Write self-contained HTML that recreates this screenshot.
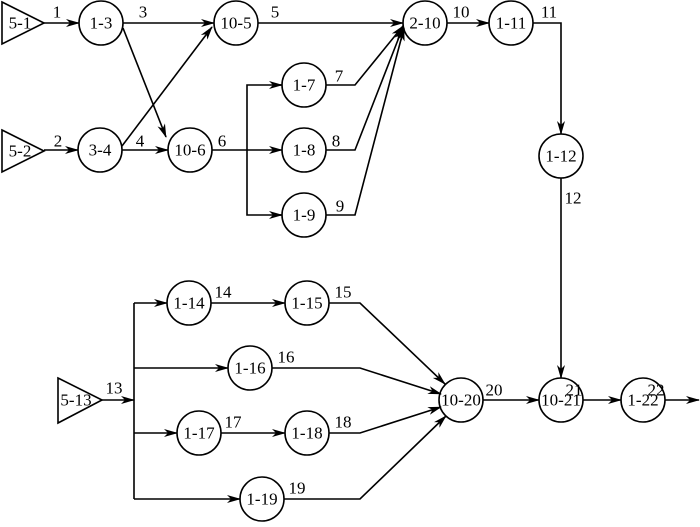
<!DOCTYPE html>
<html><head><meta charset="utf-8"><style>body{margin:0;background:#fff}</style></head><body>
<svg width="700" height="522" viewBox="0 0 700 522" xmlns="http://www.w3.org/2000/svg" font-family="Liberation Serif, serif" font-size="17">
<defs><marker id="a" markerWidth="14" markerHeight="8" refX="13" refY="4" orient="auto" markerUnits="userSpaceOnUse"><path d="M0,0 L14,4 L0,8 L4,4 z" fill="#000"/></marker></defs>
<g stroke="#000" stroke-width="1.6" fill="none">
<polygon points="2,2 44,23 2,44"/>
<polygon points="2,130 44,151 2,172"/>
<polygon points="58,378 102,400 58,423"/>
<circle cx="101" cy="23" r="22"/><circle cx="236" cy="23" r="22"/>
<circle cx="100" cy="150" r="22"/><circle cx="190" cy="150" r="22"/>
<circle cx="304" cy="85" r="22"/><circle cx="304" cy="150" r="22"/><circle cx="304" cy="215" r="22"/>
<circle cx="425" cy="23" r="22"/><circle cx="511" cy="23" r="22"/><circle cx="561" cy="156" r="22"/>
<circle cx="189" cy="303" r="22"/><circle cx="307" cy="303" r="22"/><circle cx="250" cy="368" r="22"/>
<circle cx="199" cy="433" r="22"/><circle cx="307" cy="433" r="22"/><circle cx="262" cy="499" r="22"/>
<circle cx="461" cy="400" r="22"/><circle cx="561" cy="400" r="22"/><circle cx="643" cy="400" r="22"/>
<line x1="44" y1="23" x2="79" y2="23" marker-end="url(#a)"/>
<line x1="123" y1="23" x2="214" y2="23" marker-end="url(#a)"/>
<line x1="123" y1="28" x2="166" y2="137" marker-end="url(#a)"/>
<line x1="44" y1="150" x2="78" y2="150" marker-end="url(#a)"/>
<line x1="122" y1="150" x2="168" y2="150" marker-end="url(#a)"/>
<line x1="122" y1="146" x2="212" y2="27" marker-end="url(#a)"/>
<line x1="258" y1="23" x2="403" y2="23" marker-end="url(#a)"/>
<line x1="212" y1="150" x2="282" y2="150" marker-end="url(#a)"/>
<polyline points="282,85 247,85 247,215 282,215"/>
<line x1="276" y1="85" x2="282" y2="85" marker-end="url(#a)"/>
<line x1="276" y1="215" x2="282" y2="215" marker-end="url(#a)"/>
<polyline points="326,85 355,85 403,26" marker-end="url(#a)"/>
<polyline points="326,150 355,150 403,27" marker-end="url(#a)"/>
<polyline points="326,215 355,215 404,28" marker-end="url(#a)"/>
<line x1="447" y1="23" x2="489" y2="23" marker-end="url(#a)"/>
<polyline points="533,23 561,23 561,134" marker-end="url(#a)"/>
<line x1="561" y1="178" x2="561" y2="378" marker-end="url(#a)"/>
<line x1="102" y1="400" x2="134" y2="400" marker-end="url(#a)"/>
<line x1="134" y1="303" x2="134" y2="499"/>
<line x1="134" y1="303" x2="167" y2="303" marker-end="url(#a)"/>
<line x1="134" y1="368" x2="228" y2="368" marker-end="url(#a)"/>
<line x1="134" y1="433" x2="177" y2="433" marker-end="url(#a)"/>
<line x1="134" y1="499" x2="240" y2="499" marker-end="url(#a)"/>
<line x1="211" y1="303" x2="285" y2="303" marker-end="url(#a)"/>
<line x1="221" y1="433" x2="285" y2="433" marker-end="url(#a)"/>
<polyline points="329,303 360,303 445,384" marker-end="url(#a)"/>
<polyline points="272,368 360,368 441,394" marker-end="url(#a)"/>
<polyline points="329,433 360,433 441,407" marker-end="url(#a)"/>
<polyline points="284,499 360,499 446,416" marker-end="url(#a)"/>
<line x1="483" y1="400" x2="539" y2="400" marker-end="url(#a)"/>
<line x1="583" y1="400" x2="621" y2="400" marker-end="url(#a)"/>
<line x1="665" y1="400" x2="699" y2="400" marker-end="url(#a)"/>
</g>
<g text-anchor="middle" dominant-baseline="central">
<text x="20" y="23">5-1</text><text x="20" y="151">5-2</text><text x="76" y="400">5-13</text>
<text x="101" y="23">1-3</text><text x="236" y="23">10-5</text><text x="100" y="150">3-4</text><text x="190" y="150">10-6</text>
<text x="304" y="85">1-7</text><text x="304" y="150">1-8</text><text x="304" y="215">1-9</text>
<text x="425" y="23">2-10</text><text x="511" y="23">1-11</text><text x="561" y="156">1-12</text>
<text x="189" y="303">1-14</text><text x="307" y="303">1-15</text><text x="250" y="368">1-16</text>
<text x="199" y="433">1-17</text><text x="307" y="433">1-18</text><text x="262" y="499">1-19</text>
<text x="461" y="400">10-20</text><text x="561" y="400">10-21</text><text x="643" y="400">1-22</text>
<text x="57" y="12">1</text><text x="143" y="12">3</text><text x="275" y="12">5</text>
<text x="58" y="141">2</text><text x="140" y="141">4</text><text x="222" y="141">6</text>
<text x="339" y="76">7</text><text x="336" y="141">8</text><text x="340" y="206">9</text>
<text x="461" y="12">10</text><text x="549" y="12">11</text><text x="573" y="198">12</text>
<text x="114" y="388">13</text><text x="223" y="292">14</text><text x="343" y="292">15</text>
<text x="286" y="357">16</text><text x="233" y="422">17</text><text x="343" y="422">18</text>
<text x="297" y="488">19</text><text x="494" y="390">20</text><text x="574" y="390">21</text><text x="656" y="390">22</text>
</g>
</svg>
</body></html>
